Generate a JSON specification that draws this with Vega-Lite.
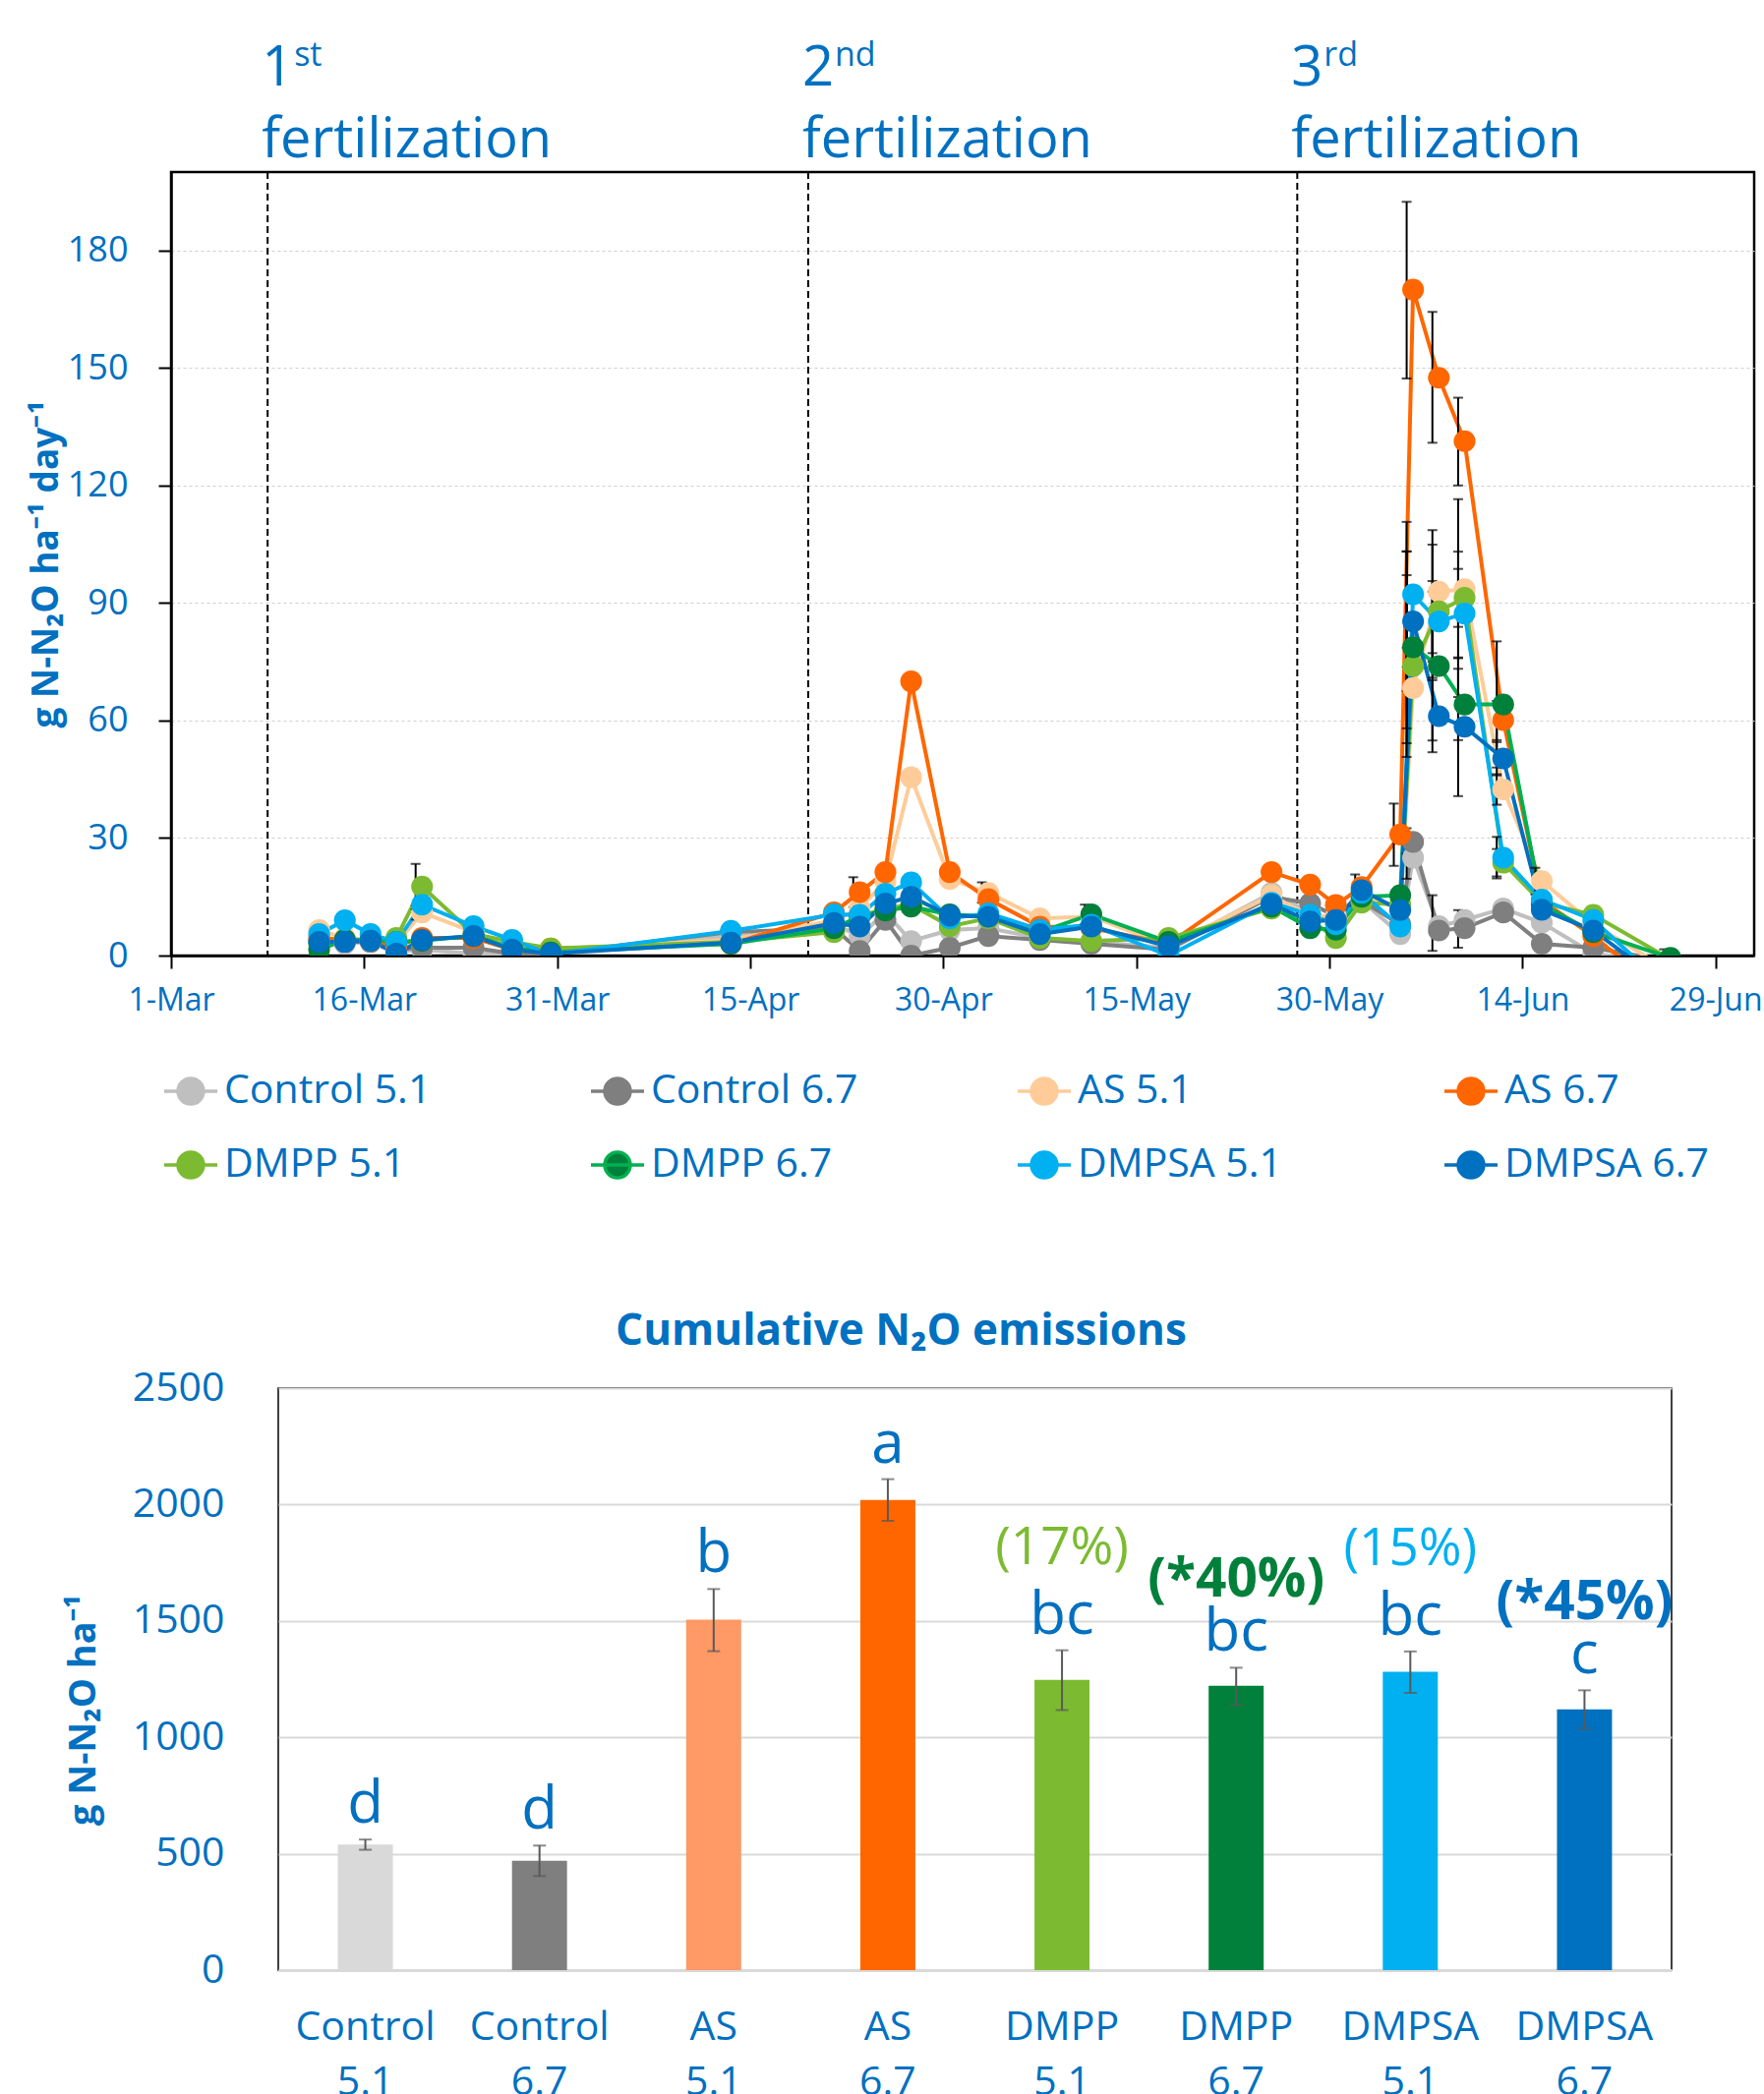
{
  "$schema": "https://vega.github.io/schema/vega-lite/v6.json",
  "padding": {"left": 26, "top": 38, "right": 0, "bottom": 0},
  "background": "white",
  "config": {"font": "Open Sans", "view": {"stroke": null}},
  "datasets": {
    "fert": [
      {"d": "2017-03-08", "n": "1", "s": "st"},
      {"d": "2017-04-19", "n": "2", "s": "nd"},
      {"d": "2017-05-27", "n": "3", "s": "rd"}
    ],
    "flux": [
      {"d":"2017-03-12","t":"Control 5.1","v":4},{"d":"2017-03-14","t":"Control 5.1","v":3},{"d":"2017-03-16","t":"Control 5.1","v":3.5},{"d":"2017-03-18","t":"Control 5.1","v":1},{"d":"2017-03-20","t":"Control 5.1","v":1.5},{"d":"2017-03-24","t":"Control 5.1","v":0.5},{"d":"2017-03-27","t":"Control 5.1","v":0.5},{"d":"2017-03-30","t":"Control 5.1","v":0.5},{"d":"2017-04-13","t":"Control 5.1","v":5},{"d":"2017-04-21","t":"Control 5.1","v":8},{"d":"2017-04-23","t":"Control 5.1","v":5},{"d":"2017-04-25","t":"Control 5.1","v":11},{"d":"2017-04-27","t":"Control 5.1","v":3.7},{"d":"2017-04-30","t":"Control 5.1","v":6.5},{"d":"2017-05-03","t":"Control 5.1","v":7},{"d":"2017-05-07","t":"Control 5.1","v":4.5},{"d":"2017-05-11","t":"Control 5.1","v":3.5},{"d":"2017-05-17","t":"Control 5.1","v":2},{"d":"2017-05-25","t":"Control 5.1","v":16},{"d":"2017-05-28","t":"Control 5.1","v":11},{"d":"2017-05-30","t":"Control 5.1","v":9},{"d":"2017-06-01","t":"Control 5.1","v":14},{"d":"2017-06-04","t":"Control 5.1","v":5.5},{"d":"2017-06-05","t":"Control 5.1","v":25},{"d":"2017-06-07","t":"Control 5.1","v":7.5},{"d":"2017-06-09","t":"Control 5.1","v":9.1},{"d":"2017-06-12","t":"Control 5.1","v":12},{"d":"2017-06-15","t":"Control 5.1","v":8.4},{"d":"2017-06-19","t":"Control 5.1","v":0.5},{"d":"2017-06-25","t":"Control 5.1","v":-2},
      {"d":"2017-03-12","t":"Control 6.7","v":3.5},{"d":"2017-03-14","t":"Control 6.7","v":3.5},{"d":"2017-03-16","t":"Control 6.7","v":3.5},{"d":"2017-03-18","t":"Control 6.7","v":1.5},{"d":"2017-03-20","t":"Control 6.7","v":2},{"d":"2017-03-24","t":"Control 6.7","v":2},{"d":"2017-03-27","t":"Control 6.7","v":0.5},{"d":"2017-03-30","t":"Control 6.7","v":0.5},{"d":"2017-04-13","t":"Control 6.7","v":6},{"d":"2017-04-21","t":"Control 6.7","v":7},{"d":"2017-04-23","t":"Control 6.7","v":1.2},{"d":"2017-04-25","t":"Control 6.7","v":9.1},{"d":"2017-04-27","t":"Control 6.7","v":0},{"d":"2017-04-30","t":"Control 6.7","v":2},{"d":"2017-05-03","t":"Control 6.7","v":5},{"d":"2017-05-07","t":"Control 6.7","v":4},{"d":"2017-05-11","t":"Control 6.7","v":3},{"d":"2017-05-17","t":"Control 6.7","v":1.5},{"d":"2017-05-25","t":"Control 6.7","v":15},{"d":"2017-05-28","t":"Control 6.7","v":13.3},{"d":"2017-05-30","t":"Control 6.7","v":10},{"d":"2017-06-01","t":"Control 6.7","v":14},{"d":"2017-06-04","t":"Control 6.7","v":8},{"d":"2017-06-05","t":"Control 6.7","v":29},{"d":"2017-06-07","t":"Control 6.7","v":6.4},{"d":"2017-06-09","t":"Control 6.7","v":7},{"d":"2017-06-12","t":"Control 6.7","v":11},{"d":"2017-06-15","t":"Control 6.7","v":3},{"d":"2017-06-19","t":"Control 6.7","v":2},{"d":"2017-06-25","t":"Control 6.7","v":-1.5},
      {"d":"2017-03-12","t":"AS 5.1","v":6.5},{"d":"2017-03-14","t":"AS 5.1","v":4.5},{"d":"2017-03-16","t":"AS 5.1","v":4},{"d":"2017-03-18","t":"AS 5.1","v":3},{"d":"2017-03-20","t":"AS 5.1","v":11},{"d":"2017-03-24","t":"AS 5.1","v":6},{"d":"2017-03-27","t":"AS 5.1","v":2},{"d":"2017-03-30","t":"AS 5.1","v":1.5},{"d":"2017-04-13","t":"AS 5.1","v":4},{"d":"2017-04-21","t":"AS 5.1","v":9},{"d":"2017-04-23","t":"AS 5.1","v":12},{"d":"2017-04-25","t":"AS 5.1","v":19},{"d":"2017-04-27","t":"AS 5.1","v":45.5},{"d":"2017-04-30","t":"AS 5.1","v":19.5},{"d":"2017-05-03","t":"AS 5.1","v":16},{"d":"2017-05-07","t":"AS 5.1","v":9.5},{"d":"2017-05-11","t":"AS 5.1","v":10},{"d":"2017-05-17","t":"AS 5.1","v":2.5},{"d":"2017-05-25","t":"AS 5.1","v":15.4},{"d":"2017-05-28","t":"AS 5.1","v":10},{"d":"2017-05-30","t":"AS 5.1","v":10},{"d":"2017-06-01","t":"AS 5.1","v":15},{"d":"2017-06-04","t":"AS 5.1","v":12},{"d":"2017-06-05","t":"AS 5.1","v":68.3},{"d":"2017-06-07","t":"AS 5.1","v":92.9},{"d":"2017-06-09","t":"AS 5.1","v":93.5},{"d":"2017-06-12","t":"AS 5.1","v":42.4},{"d":"2017-06-15","t":"AS 5.1","v":19},{"d":"2017-06-19","t":"AS 5.1","v":8},{"d":"2017-06-25","t":"AS 5.1","v":-4},
      {"d":"2017-03-12","t":"AS 6.7","v":4.5},{"d":"2017-03-14","t":"AS 6.7","v":4},{"d":"2017-03-16","t":"AS 6.7","v":4},{"d":"2017-03-18","t":"AS 6.7","v":2.5},{"d":"2017-03-20","t":"AS 6.7","v":4.5},{"d":"2017-03-24","t":"AS 6.7","v":4.5},{"d":"2017-03-27","t":"AS 6.7","v":1.5},{"d":"2017-03-30","t":"AS 6.7","v":1.8},{"d":"2017-04-13","t":"AS 6.7","v":3},{"d":"2017-04-21","t":"AS 6.7","v":11},{"d":"2017-04-23","t":"AS 6.7","v":16.2},{"d":"2017-04-25","t":"AS 6.7","v":21.3},{"d":"2017-04-27","t":"AS 6.7","v":70},{"d":"2017-04-30","t":"AS 6.7","v":21.3},{"d":"2017-05-03","t":"AS 6.7","v":14.4},{"d":"2017-05-07","t":"AS 6.7","v":7.4},{"d":"2017-05-11","t":"AS 6.7","v":7},{"d":"2017-05-17","t":"AS 6.7","v":3},{"d":"2017-05-25","t":"AS 6.7","v":21.3},{"d":"2017-05-28","t":"AS 6.7","v":18.1},{"d":"2017-05-30","t":"AS 6.7","v":12.9},{"d":"2017-06-01","t":"AS 6.7","v":17.5},{"d":"2017-06-04","t":"AS 6.7","v":30.9},{"d":"2017-06-05","t":"AS 6.7","v":170},{"d":"2017-06-07","t":"AS 6.7","v":147.5},{"d":"2017-06-09","t":"AS 6.7","v":131.3},{"d":"2017-06-12","t":"AS 6.7","v":60.1},{"d":"2017-06-15","t":"AS 6.7","v":14},{"d":"2017-06-19","t":"AS 6.7","v":5},{"d":"2017-06-25","t":"AS 6.7","v":-11},
      {"d":"2017-03-12","t":"DMPP 5.1","v":3},{"d":"2017-03-14","t":"DMPP 5.1","v":4},{"d":"2017-03-16","t":"DMPP 5.1","v":4},{"d":"2017-03-18","t":"DMPP 5.1","v":4.5},{"d":"2017-03-20","t":"DMPP 5.1","v":17.6},{"d":"2017-03-24","t":"DMPP 5.1","v":5.5},{"d":"2017-03-27","t":"DMPP 5.1","v":3.5},{"d":"2017-03-30","t":"DMPP 5.1","v":1.8},{"d":"2017-04-13","t":"DMPP 5.1","v":3.5},{"d":"2017-04-21","t":"DMPP 5.1","v":6},{"d":"2017-04-23","t":"DMPP 5.1","v":10},{"d":"2017-04-25","t":"DMPP 5.1","v":12},{"d":"2017-04-27","t":"DMPP 5.1","v":13},{"d":"2017-04-30","t":"DMPP 5.1","v":7.5},{"d":"2017-05-03","t":"DMPP 5.1","v":9.5},{"d":"2017-05-07","t":"DMPP 5.1","v":4.5},{"d":"2017-05-11","t":"DMPP 5.1","v":3.7},{"d":"2017-05-17","t":"DMPP 5.1","v":4.5},{"d":"2017-05-25","t":"DMPP 5.1","v":12},{"d":"2017-05-28","t":"DMPP 5.1","v":9},{"d":"2017-05-30","t":"DMPP 5.1","v":4.5},{"d":"2017-06-01","t":"DMPP 5.1","v":13.5},{"d":"2017-06-04","t":"DMPP 5.1","v":13},{"d":"2017-06-05","t":"DMPP 5.1","v":73.9},{"d":"2017-06-07","t":"DMPP 5.1","v":87.9},{"d":"2017-06-09","t":"DMPP 5.1","v":91.3},{"d":"2017-06-12","t":"DMPP 5.1","v":23.7},{"d":"2017-06-15","t":"DMPP 5.1","v":13.5},{"d":"2017-06-19","t":"DMPP 5.1","v":10.4},{"d":"2017-06-25","t":"DMPP 5.1","v":-1},
      {"d":"2017-03-12","t":"DMPP 6.7","v":1.5},{"d":"2017-03-14","t":"DMPP 6.7","v":4},{"d":"2017-03-16","t":"DMPP 6.7","v":4},{"d":"2017-03-18","t":"DMPP 6.7","v":3.5},{"d":"2017-03-20","t":"DMPP 6.7","v":3.8},{"d":"2017-03-24","t":"DMPP 6.7","v":5},{"d":"2017-03-27","t":"DMPP 6.7","v":2},{"d":"2017-03-30","t":"DMPP 6.7","v":0.8},{"d":"2017-04-13","t":"DMPP 6.7","v":3},{"d":"2017-04-21","t":"DMPP 6.7","v":7},{"d":"2017-04-23","t":"DMPP 6.7","v":10},{"d":"2017-04-25","t":"DMPP 6.7","v":11.5},{"d":"2017-04-27","t":"DMPP 6.7","v":12.5},{"d":"2017-04-30","t":"DMPP 6.7","v":10.5},{"d":"2017-05-03","t":"DMPP 6.7","v":10},{"d":"2017-05-07","t":"DMPP 6.7","v":6},{"d":"2017-05-11","t":"DMPP 6.7","v":10.5},{"d":"2017-05-17","t":"DMPP 6.7","v":3.5},{"d":"2017-05-25","t":"DMPP 6.7","v":12.5},{"d":"2017-05-28","t":"DMPP 6.7","v":7},{"d":"2017-05-30","t":"DMPP 6.7","v":6.6},{"d":"2017-06-01","t":"DMPP 6.7","v":15},{"d":"2017-06-04","t":"DMPP 6.7","v":15.4},{"d":"2017-06-05","t":"DMPP 6.7","v":78.7},{"d":"2017-06-07","t":"DMPP 6.7","v":73.9},{"d":"2017-06-09","t":"DMPP 6.7","v":64.1},{"d":"2017-06-12","t":"DMPP 6.7","v":64.1},{"d":"2017-06-15","t":"DMPP 6.7","v":13},{"d":"2017-06-19","t":"DMPP 6.7","v":6},{"d":"2017-06-25","t":"DMPP 6.7","v":-0.6},
      {"d":"2017-03-12","t":"DMPSA 5.1","v":5.5},{"d":"2017-03-14","t":"DMPSA 5.1","v":9},{"d":"2017-03-16","t":"DMPSA 5.1","v":5.5},{"d":"2017-03-18","t":"DMPSA 5.1","v":3.5},{"d":"2017-03-20","t":"DMPSA 5.1","v":13},{"d":"2017-03-24","t":"DMPSA 5.1","v":7.5},{"d":"2017-03-27","t":"DMPSA 5.1","v":4},{"d":"2017-03-30","t":"DMPSA 5.1","v":0.3},{"d":"2017-04-13","t":"DMPSA 5.1","v":6.3},{"d":"2017-04-21","t":"DMPSA 5.1","v":10.5},{"d":"2017-04-23","t":"DMPSA 5.1","v":10.4},{"d":"2017-04-25","t":"DMPSA 5.1","v":15.8},{"d":"2017-04-27","t":"DMPSA 5.1","v":18.7},{"d":"2017-04-30","t":"DMPSA 5.1","v":9.5},{"d":"2017-05-03","t":"DMPSA 5.1","v":10.8},{"d":"2017-05-07","t":"DMPSA 5.1","v":6.6},{"d":"2017-05-11","t":"DMPSA 5.1","v":7.9},{"d":"2017-05-17","t":"DMPSA 5.1","v":0},{"d":"2017-05-25","t":"DMPSA 5.1","v":13.5},{"d":"2017-05-28","t":"DMPSA 5.1","v":10.4},{"d":"2017-05-30","t":"DMPSA 5.1","v":8},{"d":"2017-06-01","t":"DMPSA 5.1","v":16},{"d":"2017-06-04","t":"DMPSA 5.1","v":7.4},{"d":"2017-06-05","t":"DMPSA 5.1","v":92.2},{"d":"2017-06-07","t":"DMPSA 5.1","v":85.3},{"d":"2017-06-09","t":"DMPSA 5.1","v":87.3},{"d":"2017-06-12","t":"DMPSA 5.1","v":25},{"d":"2017-06-15","t":"DMPSA 5.1","v":14.3},{"d":"2017-06-19","t":"DMPSA 5.1","v":9.1},{"d":"2017-06-25","t":"DMPSA 5.1","v":-9},
      {"d":"2017-03-12","t":"DMPSA 6.7","v":3.5},{"d":"2017-03-14","t":"DMPSA 6.7","v":3.5},{"d":"2017-03-16","t":"DMPSA 6.7","v":3.8},{"d":"2017-03-18","t":"DMPSA 6.7","v":0.5},{"d":"2017-03-20","t":"DMPSA 6.7","v":4},{"d":"2017-03-24","t":"DMPSA 6.7","v":5},{"d":"2017-03-27","t":"DMPSA 6.7","v":1.5},{"d":"2017-03-30","t":"DMPSA 6.7","v":0.5},{"d":"2017-04-13","t":"DMPSA 6.7","v":3.3},{"d":"2017-04-21","t":"DMPSA 6.7","v":8.3},{"d":"2017-04-23","t":"DMPSA 6.7","v":7.4},{"d":"2017-04-25","t":"DMPSA 6.7","v":13.3},{"d":"2017-04-27","t":"DMPSA 6.7","v":15},{"d":"2017-04-30","t":"DMPSA 6.7","v":10.2},{"d":"2017-05-03","t":"DMPSA 6.7","v":9.9},{"d":"2017-05-07","t":"DMPSA 6.7","v":5.5},{"d":"2017-05-11","t":"DMPSA 6.7","v":7.4},{"d":"2017-05-17","t":"DMPSA 6.7","v":2.4},{"d":"2017-05-25","t":"DMPSA 6.7","v":13.1},{"d":"2017-05-28","t":"DMPSA 6.7","v":8.7},{"d":"2017-05-30","t":"DMPSA 6.7","v":9.1},{"d":"2017-06-01","t":"DMPSA 6.7","v":16.7},{"d":"2017-06-04","t":"DMPSA 6.7","v":11.6},{"d":"2017-06-05","t":"DMPSA 6.7","v":85.3},{"d":"2017-06-07","t":"DMPSA 6.7","v":61.1},{"d":"2017-06-09","t":"DMPSA 6.7","v":58.4},{"d":"2017-06-12","t":"DMPSA 6.7","v":50.3},{"d":"2017-06-15","t":"DMPSA 6.7","v":11.7},{"d":"2017-06-19","t":"DMPSA 6.7","v":6.4},{"d":"2017-06-25","t":"DMPSA 6.7","v":-8.3}
    ],
    "err": [
      {"d":"2017-03-20","t":"DMPP 5.1","lo":11.8,"hi":23.4},
      {"d":"2017-03-20","t":"AS 5.1","lo":9.2,"hi":12.8},
      {"d":"2017-04-23","t":"AS 6.7","lo":12.4,"hi":20},
      {"d":"2017-05-03","t":"AS 5.1","lo":13.5,"hi":18.7},
      {"d":"2017-05-11","t":"DMPP 6.7","lo":8,"hi":13},
      {"d":"2017-06-01","t":"DMPSA 6.7","lo":12.7,"hi":20.7},
      {"d":"2017-06-04","t":"AS 6.7","lo":22.9,"hi":38.8},
      {"d":"2017-06-05","t":"AS 6.7","lo":147.3,"hi":192.4},
      {"d":"2017-06-05","t":"DMPSA 5.1","lo":73.7,"hi":110.7},
      {"d":"2017-06-05","t":"DMPSA 6.7","lo":67.5,"hi":103.1},
      {"d":"2017-06-05","t":"DMPP 6.7","lo":54.2,"hi":103.2},
      {"d":"2017-06-05","t":"DMPP 5.1","lo":50.7,"hi":97.1},
      {"d":"2017-06-05","t":"AS 5.1","lo":58,"hi":78.6},
      {"d":"2017-06-05","t":"Control 6.7","lo":26,"hi":32.5},
      {"d":"2017-06-05","t":"Control 5.1","lo":19.6,"hi":30.4},
      {"d":"2017-06-07","t":"AS 6.7","lo":130.9,"hi":164.3},
      {"d":"2017-06-07","t":"AS 5.1","lo":77.2,"hi":108.6},
      {"d":"2017-06-07","t":"DMPP 5.1","lo":70.9,"hi":104.9},
      {"d":"2017-06-07","t":"DMPP 6.7","lo":54.9,"hi":92.9},
      {"d":"2017-06-07","t":"DMPSA 6.7","lo":51.9,"hi":70.3},
      {"d":"2017-06-07","t":"DMPSA 5.1","lo":75,"hi":95.6},
      {"d":"2017-06-07","t":"Control 6.7","lo":1.2,"hi":15.4},
      {"d":"2017-06-09","t":"AS 6.7","lo":120,"hi":142.4},
      {"d":"2017-06-09","t":"DMPP 5.1","lo":66,"hi":116.5},
      {"d":"2017-06-09","t":"AS 5.1","lo":83.9,"hi":103.1},
      {"d":"2017-06-09","t":"DMPSA 5.1","lo":75.9,"hi":98.7},
      {"d":"2017-06-09","t":"DMPP 6.7","lo":55,"hi":73.2},
      {"d":"2017-06-09","t":"DMPSA 6.7","lo":40.7,"hi":76.1},
      {"d":"2017-06-09","t":"Control 6.7","lo":2,"hi":11.6},
      {"d":"2017-06-12","t":"DMPP 6.7","lo":48,"hi":80.2},
      {"d":"2017-06-12","t":"AS 6.7","lo":55,"hi":65},
      {"d":"2017-06-12","t":"AS 5.1","lo":38.5,"hi":46.3},
      {"d":"2017-06-12","t":"DMPSA 5.1","lo":19.7,"hi":30.3},
      {"d":"2017-06-12","t":"DMPP 5.1","lo":20.2,"hi":27.2},
      {"d":"2017-06-12","t":"DMPSA 6.7","lo":46,"hi":54.5},
      {"d":"2017-06-15","t":"AS 5.1","lo":15.6,"hi":22.4},
      {"d":"2017-06-25","t":"DMPP 5.1","lo":0,"hi":1.6}
    ],
    "cum": [
      {"t":"Control 5.1","v":540,"lo":517,"hi":561,"l":"d","p":"","sig":false},
      {"t":"Control 6.7","v":470,"lo":404,"hi":535,"l":"d","p":"","sig":false},
      {"t":"AS 5.1","v":1505,"lo":1370,"hi":1637,"l":"b","p":"","sig":false},
      {"t":"AS 6.7","v":2020,"lo":1930,"hi":2109,"l":"a","p":"","sig":false},
      {"t":"DMPP 5.1","v":1247,"lo":1117,"hi":1374,"l":"bc","p":"(17%)","sig":false},
      {"t":"DMPP 6.7","v":1222,"lo":1138,"hi":1299,"l":"bc","p":"(*40%)","sig":true},
      {"t":"DMPSA 5.1","v":1282,"lo":1191,"hi":1369,"l":"bc","p":"(15%)","sig":false},
      {"t":"DMPSA 6.7","v":1120,"lo":1038,"hi":1202,"l":"c","p":"(*45%)","sig":true}
    ]
  },
  "bounds": "flush",
  "spacing": 440,
  "resolve": {
    "scale": {"fill": "independent", "stroke": "independent", "x": "independent", "y": "independent"},
    "legend": {"fill": "independent", "stroke": "independent"}
  },
  "vconcat": [
    {
      "name": "top",
      "width": 1610,
      "height": 797,
      "view": {"stroke": "black", "strokeWidth": 2.5},
      "layer": [
        {
          "data": {"name": "fert"},
          "mark": {"type": "rule", "color": "black", "strokeWidth": 2, "strokeDash": [7, 4]},
          "encoding": {
            "x": {"field": "d", "type": "temporal", "timeUnit": "utcyearmonthdate", "bandPosition": 0.5, "title": null,
                  "scale": {"domain": [{"year": 2017, "month": 3, "date": 1, "utc": true}, {"year": 2017, "month": 7, "date": 2, "utc": true}], "nice": false}}
          }
        },
        {
          "data": {"name": "fert"},
          "mark": {"type": "text", "align": "left", "baseline": "alphabetic", "fontSize": 56, "color": "#0070C0", "dx": -6, "dy": -88},
          "encoding": {
            "x": {"field": "d", "type": "temporal", "timeUnit": "utcyearmonthdate", "bandPosition": 0.5, "title": null},
            "y": {"datum": 200, "type": "quantitative", "title": "g N-N₂O ha⁻¹ day⁻¹"},
            "text": {"field": "n"}
          }
        },
        {
          "data": {"name": "fert"},
          "mark": {"type": "text", "align": "left", "baseline": "alphabetic", "fontSize": 34, "color": "#0070C0", "dx": 27, "dy": -108},
          "encoding": {
            "x": {"field": "d", "type": "temporal", "timeUnit": "utcyearmonthdate", "bandPosition": 0.5, "title": null},
            "y": {"datum": 200, "type": "quantitative", "title": "g N-N₂O ha⁻¹ day⁻¹"},
            "text": {"field": "s"}
          }
        },
        {
          "data": {"name": "fert"},
          "mark": {"type": "text", "align": "left", "baseline": "alphabetic", "fontSize": 56, "color": "#0070C0", "dx": -6, "dy": -15},
          "encoding": {
            "x": {"field": "d", "type": "temporal", "timeUnit": "utcyearmonthdate", "bandPosition": 0.5, "title": null},
            "y": {"datum": 200, "type": "quantitative", "title": "g N-N₂O ha⁻¹ day⁻¹"},
            "text": {"value": "fertilization"}
          }
        },
        {
          "data": {"name": "flux"},
          "mark": {"type": "line", "strokeWidth": 4, "clip": true},
          "encoding": {
            "x": {"field": "d", "type": "temporal", "timeUnit": "utcyearmonthdate", "bandPosition": 0.5, "title": null,
                  "scale": {"domain": [{"year": 2017, "month": 3, "date": 1, "utc": true}, {"year": 2017, "month": 7, "date": 2, "utc": true}], "nice": false},
                  "axis": {
                    "title": null,
                    "values": [
                      {"year": 2017, "month": 3, "date": 1, "utc": true},
                      {"year": 2017, "month": 3, "date": 16, "utc": true},
                      {"year": 2017, "month": 3, "date": 31, "utc": true},
                      {"year": 2017, "month": 4, "date": 15, "utc": true},
                      {"year": 2017, "month": 4, "date": 30, "utc": true},
                      {"year": 2017, "month": 5, "date": 15, "utc": true},
                      {"year": 2017, "month": 5, "date": 30, "utc": true},
                      {"year": 2017, "month": 6, "date": 14, "utc": true},
                      {"year": 2017, "month": 6, "date": 29, "utc": true}
                    ],
                    "labelExpr": "utcFormat(datum.value, '%-d-%b')",
                    "labelFontSize": 32, "labelColor": "#0070C0", "labelPadding": 17,
                    "labelFlush": false, "labelOverlap": false, "labelBound": false,
                    "tickSize": 13, "tickWidth": 2, "tickColor": "black",
                    "domainColor": "black", "domainWidth": 2.5, "grid": false
                  }},
            "y": {"field": "v", "type": "quantitative", "title": "g N-N₂O ha⁻¹ day⁻¹",
                  "scale": {"domain": [0, 200], "nice": false},
                  "axis": {
                    "title": "g N-N₂O ha⁻¹ day⁻¹", "titleFontSize": 37, "titleFontWeight": "bold", "titleColor": "#0070C0", "titlePadding": 2,
                    "values": [0, 30, 60, 90, 120, 150, 180],
                    "labelFontSize": 36, "labelColor": "#0070C0", "labelPadding": 31,
                    "tickSize": 13, "tickWidth": 2, "tickColor": "black",
                    "domainColor": "black", "domainWidth": 2.5,
                    "grid": true, "gridColor": "#CFCFCF", "gridDash": [3, 3], "gridWidth": 1
                  }},
            "stroke": {"field": "t", "type": "nominal",
                       "scale": {"domain": ["Control 5.1", "Control 6.7", "AS 5.1", "AS 6.7", "DMPP 5.1", "DMPP 6.7", "DMPSA 5.1", "DMPSA 6.7"],
                                 "range": ["#BFBFBF", "#7F7F7F", "#FFCC99", "#FF6600", "#7CBB31", "#00B050", "#00B0F0", "#0070C0"]},
                       "legend": {"orient": "none", "legendX": -9, "legendY": 906, "direction": "horizontal", "columns": 4, "title": null,
                                  "symbolType": "M-1,0H1M0.48,0A0.48,0.48,0,1,1,-0.48,0A0.48,0.48,0,1,1,0.48,0Z",
                                  "symbolSize": 2916, "symbolStrokeWidth": 3.5, "labelFontSize": 41, "labelColor": "#0070C0",
                                  "labelOffset": 5, "columnPadding": 155, "rowPadding": 26, "padding": 0, "gridAlign": "all", "labelLimit": 400}}
          }
        },
        {
          "data": {"name": "err"},
          "mark": {"type": "errorbar", "ticks": true, "size": 10, "thickness": 2, "color": "black"},
          "encoding": {
            "x": {"field": "d", "type": "temporal", "timeUnit": "utcyearmonthdate", "bandPosition": 0.5, "title": null},
            "y": {"field": "lo", "type": "quantitative", "title": "g N-N₂O ha⁻¹ day⁻¹"},
            "y2": {"field": "hi"}
          }
        },
        {
          "data": {"name": "flux"},
          "mark": {"type": "point", "filled": true, "size": 490, "opacity": 1, "strokeWidth": 0, "clip": true},
          "encoding": {
            "x": {"field": "d", "type": "temporal", "timeUnit": "utcyearmonthdate", "bandPosition": 0.5, "title": null},
            "y": {"field": "v", "type": "quantitative", "title": "g N-N₂O ha⁻¹ day⁻¹"},
            "fill": {"field": "t", "type": "nominal",
                     "scale": {"domain": ["Control 5.1", "Control 6.7", "AS 5.1", "AS 6.7", "DMPP 5.1", "DMPP 6.7", "DMPSA 5.1", "DMPSA 6.7"],
                               "range": ["#BFBFBF", "#7F7F7F", "#FFCC99", "#FF6600", "#7CBB31", "#00803A", "#00B0F0", "#0070C0"]},
                     "legend": {"orient": "none", "legendX": -9, "legendY": 906, "direction": "horizontal", "columns": 4, "title": null,
                                "symbolType": "M-1,0H1M0.48,0A0.48,0.48,0,1,1,-0.48,0A0.48,0.48,0,1,1,0.48,0Z",
                                "symbolSize": 2916, "symbolStrokeWidth": 3.5, "labelFontSize": 41, "labelColor": "#0070C0",
                                "labelOffset": 5, "columnPadding": 155, "rowPadding": 26, "padding": 0, "gridAlign": "all", "labelLimit": 400}}
          }
        }
      ]
    },
    {
      "bounds": "flush",
      "spacing": 0,
      "hconcat": [
        {"width": 109, "height": 10, "data": {"values": []}, "mark": "point"},
        {
          "width": 1417,
          "height": 592,
          "view": {"stroke": "black", "strokeWidth": 1.5},
          "title": {"text": "Cumulative N₂O emissions", "fontSize": 44, "fontWeight": "bold", "color": "#0070C0",
                    "anchor": "middle", "frame": "group", "dx": -75, "dy": 21, "offset": 0, "baseline": "alphabetic"},
          "data": {"name": "cum"},
          "encoding": {
            "x": {"field": "t", "type": "nominal", "sort": null, "title": null,
                  "scale": {"paddingInner": 0.684, "paddingOuter": 0.342},
                  "axis": {"title": null, "labelExpr": "split(datum.label, ' ')", "labelAngle": 0,
                           "labelFontSize": 41, "labelColor": "#0070C0", "labelLineHeight": 56, "labelPadding": 38,
                           "labelBaseline": "top", "ticks": false, "domainColor": "#D9D9D9", "domainWidth": 3}}
          },
          "layer": [
            {
              "mark": {"type": "bar"},
              "encoding": {
                "y": {"field": "v", "type": "quantitative", "title": "g N-N₂O ha⁻¹",
                      "scale": {"domain": [0, 2500], "nice": false},
                      "axis": {"title": "g N-N₂O ha⁻¹", "titleFontSize": 38, "titleFontWeight": "bold", "titleColor": "#0070C0",
                               "titlePadding": 30, "titleY": 327,
                               "values": [0, 500, 1000, 1500, 2000, 2500], "format": "d",
                               "labelFontSize": 41, "labelColor": "#0070C0", "labelPadding": 55,
                               "ticks": false, "domain": false,
                               "grid": true, "gridColor": "#D9D9D9", "gridWidth": 2}},
                "fill": {"field": "t", "type": "nominal",
                         "scale": {"domain": ["Control 5.1", "Control 6.7", "AS 5.1", "AS 6.7", "DMPP 5.1", "DMPP 6.7", "DMPSA 5.1", "DMPSA 6.7"],
                                   "range": ["#D9D9D9", "#7F7F7F", "#FF9966", "#FF6600", "#7CBB31", "#00803A", "#00B0F0", "#0070C0"]},
                         "legend": null}
              }
            },
            {
              "mark": {"type": "errorbar", "ticks": true, "size": 13, "thickness": 2, "color": "#595959"},
              "encoding": {
                "y": {"field": "lo", "type": "quantitative", "title": "g N-N₂O ha⁻¹"},
                "y2": {"field": "hi"}
              }
            },
            {
              "mark": {"type": "text", "fontSize": 60, "color": "#0070C0", "baseline": "alphabetic", "dy": -17},
              "encoding": {
                "y": {"field": "hi", "type": "quantitative", "title": "g N-N₂O ha⁻¹"},
                "text": {"field": "l"}
              }
            },
            {
              "transform": [{"filter": "datum.sig === false && datum.p !== ''"}],
              "mark": {"type": "text", "fontSize": 53, "baseline": "alphabetic", "dy": -88},
              "encoding": {
                "y": {"field": "hi", "type": "quantitative", "title": "g N-N₂O ha⁻¹"},
                "text": {"field": "p"},
                "fill": {"field": "t", "type": "nominal", "legend": null}
              }
            },
            {
              "transform": [{"filter": "datum.sig === true"}],
              "mark": {"type": "text", "fontSize": 55, "fontWeight": "bold", "baseline": "alphabetic", "dy": -72},
              "encoding": {
                "y": {"field": "hi", "type": "quantitative", "title": "g N-N₂O ha⁻¹"},
                "text": {"field": "p"},
                "fill": {"field": "t", "type": "nominal", "legend": null}
              }
            }
          ]
        }
      ]
    }
  ]
}
